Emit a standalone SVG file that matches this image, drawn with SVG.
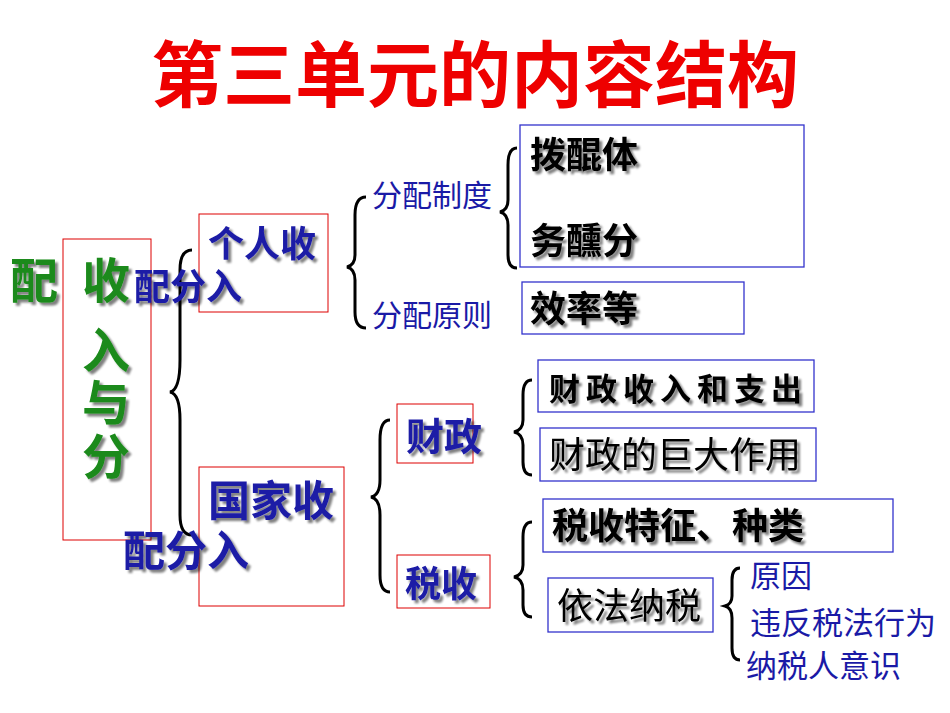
<svg xmlns="http://www.w3.org/2000/svg" width="950" height="713" viewBox="0 0 950 713">
<defs>
<filter id="sh" x="-5%" y="-20%" width="115%" height="150%">
<feGaussianBlur in="SourceAlpha" stdDeviation="0.8"/>
<feOffset dx="2.5" dy="2.5" result="o"/>
<feComponentTransfer><feFuncA type="linear" slope="0.5"/></feComponentTransfer>
<feMerge><feMergeNode/><feMergeNode in="SourceGraphic"/></feMerge>
</filter>
</defs>
<style>
.t{font-family:"Liberation Sans","Noto Sans CJK SC",sans-serif}
.b{font-weight:bold}
.blue{fill:#1a1aa6}
.s{filter:url(#sh)}
.rb{fill:none;stroke:#d00;stroke-width:1}
.bb{fill:#fff;stroke:#33c;stroke-width:1.3}
.br{fill:none;stroke:#000;stroke-width:3}
</style>
<rect width="950" height="713" fill="#fff"/>
<text class="t b" x="475" y="101" font-size="72" fill="#e00" text-anchor="middle">第三单元的内容结构</text>

<g id="root">
<rect class="rb" x="63" y="239" width="88" height="301"/>
<g font-size="48" class="t b s" fill="#1a8a1a">
<text x="10" y="298">配</text>
<text x="82" y="298">收</text>
<text x="82" y="368">入</text>
<text x="82" y="420">与</text>
<text x="82" y="474">分</text>
</g>
</g>

<g id="connectors">
<path class="br" d="M192 250 Q180 250 180 270 L180 360 Q180 390 170 392 Q180 394 180 420 L180 515 Q180 535 192 535"/>
<path class="br" d="M366 197 Q355 197 355 215 L355 255 Q355 265 347 267 Q355 269 355 280 L355 312 Q355 328 366 328"/>
<path class="br" d="M517 148 Q508 148 508 165 L508 200 Q508 210 500 212 Q508 214 508 225 L508 255 Q508 268 517 268"/>
<path class="br" d="M390 420 Q380 420 380 440 L380 480 Q380 495 371 497 Q380 499 380 515 L380 575 Q380 592 390 592"/>
<path class="br" d="M532 380 Q523 380 523 395 L523 420 Q523 430 514 432 Q523 434 523 445 L523 462 Q523 475 532 475"/>
<path class="br" d="M532 522 Q523 522 523 537 L523 565 Q523 575 514 577 Q523 579 523 590 L523 605 Q523 617 532 617"/>
<path class="br" d="M740 568 Q732 568 732 580 L732 596 Q732 604 725 606 Q732 608 732 618 L732 648 Q732 660 740 660"/>
</g>

<g id="personal">
<rect class="rb" x="199" y="214" width="129" height="98"/>
<text class="t b blue s" x="208" y="257" font-size="36">个人收</text>
<text class="t b blue s" x="134" y="300" font-size="36">配分入</text>
</g>
<g id="state">
<rect class="rb" x="199" y="467" width="145" height="139"/>
<text class="t b blue s" x="208" y="516" font-size="42">国家收</text>
<text class="t b blue s" x="123" y="566" font-size="42">配分入</text>
</g>

<g id="zhidu"><text class="t blue" x="372" y="206" font-size="30">分配制度</text></g>
<g id="yuanze"><text class="t blue" x="372" y="326" font-size="30">分配原则</text></g>

<g id="box1">
<rect class="bb" x="520" y="125" width="284" height="142"/>
<text class="t b s" x="530" y="168" font-size="36">拨醌体</text>
<text class="t b s" x="530" y="254" font-size="36">务醺分</text>
</g>
<g id="box2">
<rect class="bb" x="522" y="282" width="222" height="52"/>
<text class="t b s" x="530" y="322" font-size="36">效率等</text>
</g>

<g id="caizheng">
<rect class="rb" x="397" y="404" width="76" height="59"/>
<text class="t b blue s" x="406" y="450" font-size="38">财政</text>
</g>
<g id="shuishou">
<rect class="rb" x="397" y="555" width="93" height="53"/>
<text class="t b blue s" x="405" y="597" font-size="36">税收</text>
</g>

<g id="box3">
<rect class="bb" x="538" y="360" width="276" height="52"/>
<text class="t b s" x="549" y="400" font-size="31" letter-spacing="6">财政收入和支出</text>
</g>
<g id="box4">
<rect class="bb" x="540" y="428" width="276" height="53"/>
<text class="t s" x="549" y="468" font-size="36">财政的巨大作用</text>
</g>
<g id="box5">
<rect class="bb" x="543" y="499" width="350" height="53"/>
<text class="t b s" x="552" y="539" font-size="36">税收特征、种类</text>
</g>
<g id="box6">
<rect class="bb" x="548" y="578" width="165" height="54"/>
<text class="t s" x="557" y="619" font-size="36">依法纳税</text>
</g>

<g id="reasons" class="t blue" font-size="31">
<text x="750" y="587">原因</text>
<text x="750" y="634">违反税法行为</text>
<text x="746" y="677">纳税人意识</text>
</g>
</svg>
